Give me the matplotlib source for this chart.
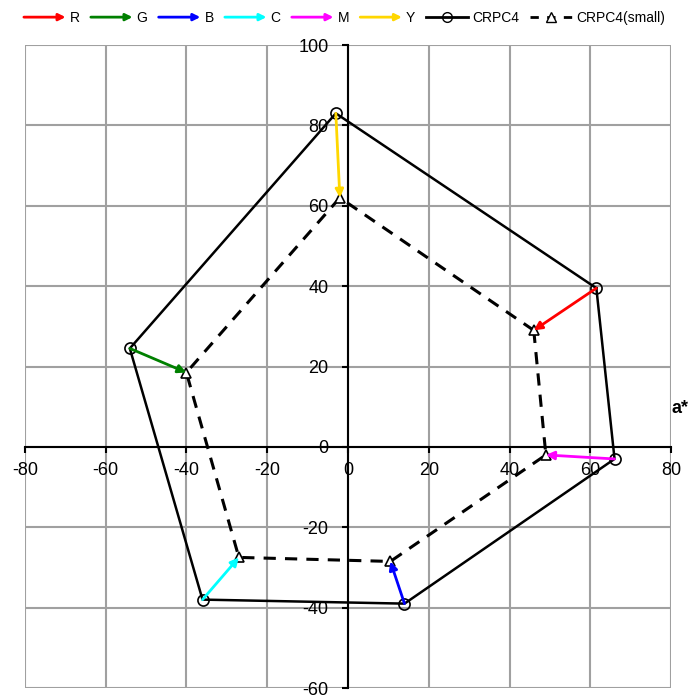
import numpy as np
import matplotlib.pyplot as plt
from matplotlib.lines import Line2D
from matplotlib.patches import FancyArrowPatch
from matplotlib.legend_handler import HandlerBase

plt.rcParams['font.family'] = ['Liberation Sans', 'DejaVu Sans']
plt.rcParams['axes.unicode_minus'] = False

# Datos (a*, b*) en orden R, Y, G, C, B, M
nombres = ['R', 'Y', 'G', 'C', 'B', 'M']
colores = ['#ff0000', '#ffd700', '#008000', '#00ffff', '#0000ff', '#ff00ff']
a_crpc4 = [61.5, -3.0, -54.0, -36.0, 14.0, 66.0]
b_crpc4 = [39.5, 83.0, 24.5, -38.0, -39.0, -3.0]
a_small = [46.0, -2.0, -40.0, -27.0, 10.5, 49.0]
b_small = [29.0, 62.0, 18.5, -27.5, -28.5, -2.0]

# orden de la leyenda
orden_leyenda = ['R', 'G', 'B', 'C', 'M', 'Y']

class HandlerFlecha(HandlerBase):
    def create_artists(self, legend, orig_handle, xdescent, ydescent,
                       width, height, fontsize, trans):
        y = height / 2 - ydescent
        p = FancyArrowPatch((-xdescent, y), (width - xdescent, y),
                            arrowstyle='-|>', mutation_scale=10,
                            color=orig_handle.get_color(), lw=2,
                            shrinkA=0, shrinkB=0)
        p.set_transform(trans)
        return [p]

fig = plt.figure(figsize=(6.89, 6.98), dpi=100)
ax = fig.add_axes([0.036, 0.0143, 0.938, 0.9212])

# Poligonos
ax.plot(a_crpc4 + a_crpc4[:1], b_crpc4 + b_crpc4[:1], color='black', lw=1.8,
        zorder=3)
ax.plot(a_small + a_small[:1], b_small + b_small[:1], color='black', lw=2.2,
        linestyle=(0, (4, 3)), zorder=3)
ax.plot(a_crpc4, b_crpc4, 'o', ms=8, mfc='none', mec='black', mew=1.2,
        zorder=4)
ax.plot(a_small, b_small, '^', ms=7, mfc='white', mec='black', mew=1.2,
        zorder=4)

# Flechas
for i in range(len(nombres)):
    ax.annotate('', xy=(a_small[i], b_small[i]),
                xytext=(a_crpc4[i], b_crpc4[i]),
                arrowprops=dict(arrowstyle='-|>', color=colores[i], lw=2,
                                mutation_scale=12, shrinkA=0, shrinkB=0),
                zorder=5)

ax.set_xlim(-80, 80)
ax.set_ylim(-60, 100)
ax.set_xticks(np.arange(-80, 81, 20))
ax.set_yticks(np.arange(-60, 101, 20))
ax.grid(True, color='#a0a0a0', lw=1.5)
ax.set_axisbelow(True)
ax.spines['left'].set_position(('data', 0))
ax.spines['bottom'].set_position(('data', 0))
ax.spines['top'].set_visible(False)
ax.spines['right'].set_visible(False)
ax.spines['left'].set_linewidth(1.5)
ax.spines['bottom'].set_linewidth(1.5)
ax.tick_params(direction='out', length=4, width=1.5, labelsize=13)
ax.tick_params(axis='x', pad=7)
ax.tick_params(axis='y', pad=10)
for lab in ax.get_xticklabels() + ax.get_yticklabels():
    lab.set_clip_on(False)

fig.text(0.975, 1 - 408 / 698, 'a*', fontsize=13, fontweight='bold',
         ha='left', va='center')

# Leyenda
handles = []
labels = []
for n in orden_leyenda:
    handles.append(Line2D([], [], color=colores[nombres.index(n)]))
    labels.append(n)
handles.append(Line2D([], [], color='black', lw=2, marker='o', mfc='none',
                      mec='black', ms=7))
labels.append('CRPC4')
handles.append(Line2D([], [], color='black', lw=2, linestyle=(0, (3, 3)),
                      marker='^', mfc='white', mec='black', ms=7))
labels.append('CRPC4(small)')
hmap = {h: HandlerFlecha() for h in handles[:6]}
fig.legend(handles, labels, handler_map=hmap, loc='center',
           bbox_to_anchor=(0.5, 1 - 18 / 698), ncol=8, frameon=False,
           fontsize=10, handlelength=3.0, handletextpad=0.3,
           columnspacing=0.8)

plt.savefig('out.png', dpi=100)
